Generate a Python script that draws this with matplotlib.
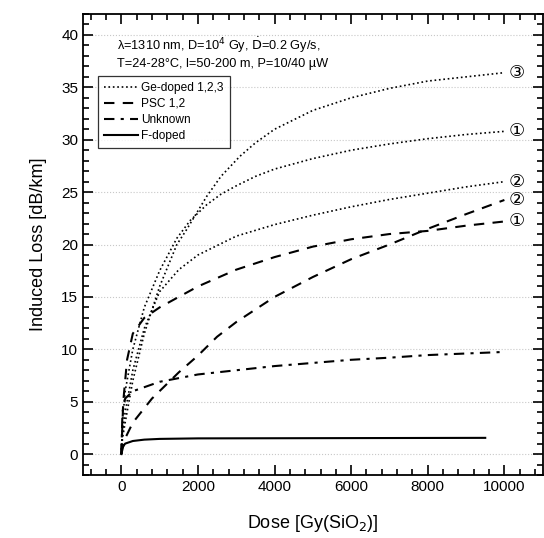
import matplotlib
matplotlib.use("Agg")
import matplotlib.pyplot as plt
from matplotlib.ticker import MultipleLocator

plt.rcParams['font.family'] = ['Liberation Sans', 'DejaVu Sans']

# dose values [Gy] and induced loss [dB/km]
ge3_dose = [0, 30, 100, 300, 600, 1000, 1450, 1700, 2230, 2600, 3090, 3500, 4000, 5000, 6000, 7000, 8000, 9000, 10000]
ge3_loss = [0, 1.5, 3, 7, 11.5, 16, 20, 21.4, 24.6, 26.5, 28.4, 29.7, 31, 32.8, 34, 34.9, 35.6, 36.0, 36.4]

ge1_dose = [0, 30, 100, 300, 600, 1000, 1450, 1800, 2230, 2600, 3000, 3500, 4000, 5000, 6000, 7000, 8000, 9000, 10000]
ge1_loss = [0, 3, 6, 10, 14, 17.5, 20.6, 22.3, 23.8, 24.8, 25.6, 26.5, 27.2, 28.2, 29, 29.6, 30.1, 30.5, 30.8]

ge2_dose = [0, 30, 100, 300, 600, 1000, 1500, 2000, 3000, 4000, 5000, 6000, 7000, 8000, 9000, 10000]
ge2_loss = [0, 2, 4, 8, 12, 15.5, 17.6, 19, 20.8, 21.9, 22.8, 23.6, 24.3, 24.9, 25.5, 26.0]

psc1_dose = [0, 50, 150, 300, 600, 1000, 1500, 2000, 3000, 4000, 5000, 6000, 7000, 8000, 9000, 10000]
psc1_loss = [0, 5, 9, 11.5, 13, 14, 15, 16, 17.6, 18.8, 19.8, 20.5, 21, 21.3, 21.8, 22.2]

psc2_dose = [0, 100, 300, 800, 1500, 2000, 2500, 3000, 4000, 5000, 6000, 7000, 8000, 9000, 10000]
psc2_loss = [0, 1.5, 3, 5.3, 7.8, 9.4, 11.2, 12.6, 15, 16.9, 18.6, 20, 21.5, 22.9, 24.25]

unk_dose = [0, 30, 100, 300, 1000, 2000, 3000, 4000, 5000, 6000, 7000, 8000, 9000, 10000]
unk_loss = [0, 4, 5.3, 6, 6.9, 7.6, 8.0, 8.4, 8.7, 9.0, 9.2, 9.45, 9.6, 9.75]

fdop_dose = [0, 20, 100, 300, 600, 1000, 2000, 5000, 9500]
fdop_loss = [0, 0.6, 1.0, 1.25, 1.38, 1.45, 1.5, 1.52, 1.55]

end_labels = ["\u2462", "\u2460", "\u2461", "\u2461", "\u2460"]
end_values = [36.4, 30.8, 26.0, 24.25, 22.2]

fig = plt.figure(figsize=(5.44, 5.38), dpi=100)
ax = fig.add_axes([0.1526, 0.117, 0.845, 0.857])

ax.plot(ge3_dose, ge3_loss, color='black', ls=':', lw=1.2, label='Ge-doped 1,2,3')
ax.plot(ge1_dose, ge1_loss, color='black', ls=':', lw=1.2)
ax.plot(ge2_dose, ge2_loss, color='black', ls=':', lw=1.2)
ax.plot(psc1_dose, psc1_loss, color='black', ls=(0, (5, 4)), lw=1.5, label='PSC 1,2')
ax.plot(psc2_dose, psc2_loss, color='black', ls=(0, (5, 4)), lw=1.5)
ax.plot(unk_dose, unk_loss, color='black', ls=(0, (5, 3, 1.5, 3)), lw=1.5, label='Unknown')
ax.plot(fdop_dose, fdop_loss, color='black', ls='-', lw=1.5, label='F-doped')

for lab, v in zip(end_labels, end_values):
    ax.text(10330, v, lab, ha='center', va='center', fontsize=13,
            family=['DejaVu Sans', 'Noto Sans CJK SC'])

ax.text(-100, 38.3, "\u03bb=1310 nm, D=10$^4$ Gy, $\\dot{\\mathrm{D}}$=0.2 Gy/s,\nT=24-28\u00b0C, l=50-200 m, P=10/40 \u00b5W",
        fontsize=9.2, ha='left', va='center', linespacing=1.3)

ax.set_xlim(-1000, 11000)
ax.set_ylim(-2, 42)
ax.xaxis.set_major_locator(MultipleLocator(2000))
ax.xaxis.set_minor_locator(MultipleLocator(400))
ax.yaxis.set_major_locator(MultipleLocator(5))
ax.yaxis.set_minor_locator(MultipleLocator(1))
ax.tick_params(which='both', direction='in', top=True, right=True, labelsize=11, width=1.2)
ax.tick_params(which='major', length=7)
ax.tick_params(which='minor', length=4)
ax.grid(axis='y', which='major', color='#c8c8c8', ls=':', lw=0.8)
for s in ax.spines.values():
    s.set_linewidth(1.3)

ax.set_xlabel("Dose [Gy(SiO$_2$)]", fontsize=13, labelpad=14)
ax.set_ylabel("Induced Loss [dB/km]", fontsize=13, labelpad=10)

leg = ax.legend(loc='upper left', bbox_to_anchor=(0.033, 0.866), fontsize=8.6,
                frameon=True, fancybox=False, edgecolor='black', handlelength=2.8,
                handletextpad=0.3, labelspacing=0.35, borderpad=0.5, borderaxespad=0)
leg.get_frame().set_linewidth(0.9)

fig.savefig("out.png", dpi=100)
